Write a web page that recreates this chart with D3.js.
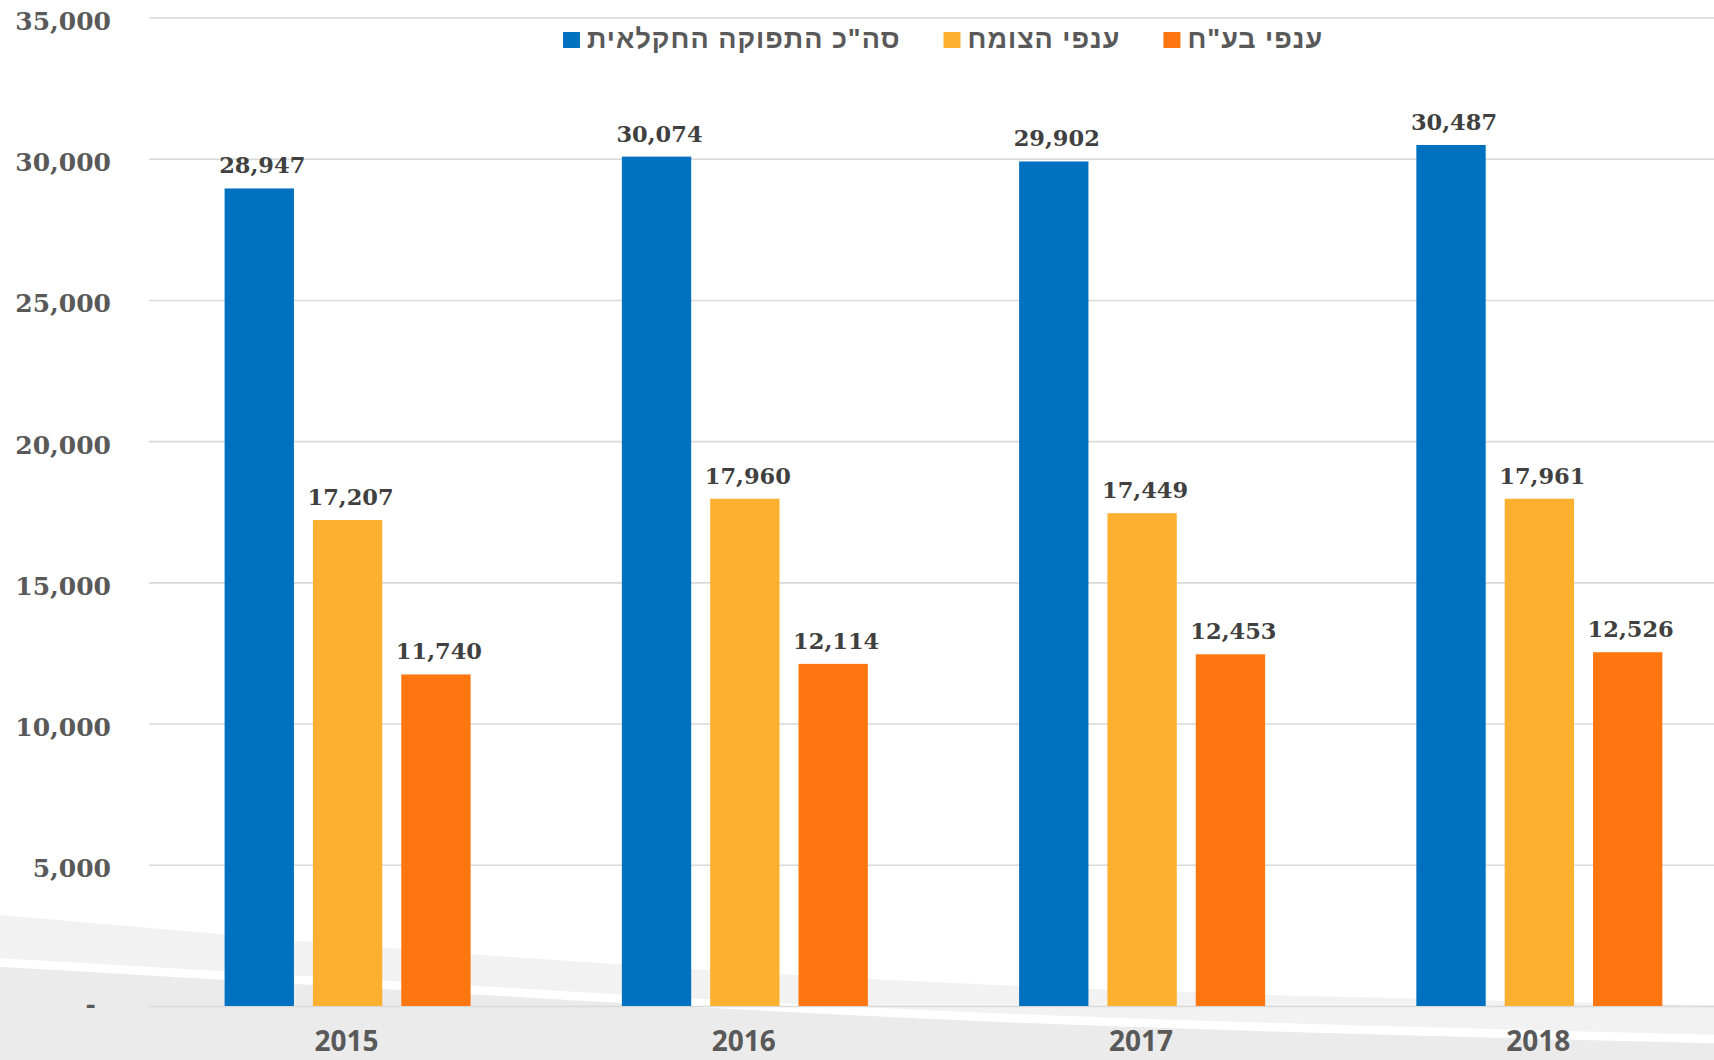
<!DOCTYPE html>
<html>
<head>
<meta charset="utf-8">
<script src="https://cdn.jsdelivr.net/npm/d3@7"></script>
<style>
  html, body { margin: 0; padding: 0; background: #fff; }
  svg { display: block; }
</style>
</head>
<body>
<div id="chart"></div>
<script>
// data
const years = ['2015', '2016', '2017', '2018'];
const seriesNames = ['סה"כ התפוקה החקלאית', 'ענפי הצומח', 'ענפי בע"ח'];
const totalOutput = [28947, 30074, 29902, 30487];
const plantOutput = [17207, 17960, 17449, 17961];
const livestockOutput = [11740, 12114, 12453, 12526];
const yTicks = [0, 5000, 10000, 15000, 20000, 25000, 30000, 35000];

const colors = ['#0070c0', '#fbb12f', '#fe7610'];
const W = 1714, H = 1060;
const plot = { left: 149, right: 1738, top: 17.5, bottom: 1006 };

const svg = d3.select('#chart')
  .append('svg')
  .attr('width', W)
  .attr('height', H);

// background decoration at the bottom
const line = d3.line().curve(d3.curveBasis);
const bandTop = [[0, 915], [470, 956], [900, 982], [1300, 997], [1714, 1005]];
svg.append('path')
  .attr('d', line(bandTop) + `L${W},${H}L0,${H}Z`)
  .attr('fill', '#f2f2f2');
const stripe = [[0, 967], [500, 996], [1000, 1025], [1714, 1043]];
svg.append('path')
  .attr('d', line(stripe) + `L${W},${H}L0,${H}Z`)
  .attr('fill', '#ebebeb');
svg.append('path')
  .attr('d', line([[0, 962.5], [500, 991.5], [1000, 1021], [1714, 1039]]))
  .attr('fill', 'none')
  .attr('stroke', '#fff')
  .attr('stroke-width', 8.5);

// scales
const x = d3.scaleBand()
  .domain(years)
  .range([plot.left, plot.right]);

const xInner = d3.scaleBand()
  .domain(seriesNames)
  .range([75.6, 321.6])
  .paddingInner(0.215);

const y = d3.scaleLinear()
  .domain([0, 35000])
  .range([plot.bottom, plot.top]);

// gridlines
const grid = svg.append('g')
  .attr('transform', `translate(${plot.left}, 0)`)
  .call(d3.axisLeft(y).tickValues(yTicks).tickSize(-(W - plot.left)).tickFormat(''));
grid.select('.domain').remove();
grid.selectAll('line')
  .attr('stroke', '#d9d9d9')
  .attr('stroke-width', 1.6);

// y labels
const fmt = d3.format(',');
const yAxis = svg.append('g')
  .attr('transform', `translate(111, 0)`)
  .call(d3.axisLeft(y).tickValues(yTicks).tickSize(0).tickPadding(0)
    .tickFormat(d => d === 0 ? '-' : fmt(d)));
yAxis.select('.domain').remove();
yAxis.selectAll('text')
  .attr('dy', null)
  .attr('y', 12)
  .style('font-family', '"DejaVu Serif", serif')
  .style('font-weight', 'bold')
  .style('font-size', '25px')
  .style('fill', '#595959');
yAxis.selectAll('.tick').filter(d => d === 0).select('text')
  .attr('x', -15)
  .attr('y', 6);

// bars
const seriesValues = [totalOutput, plantOutput, livestockOutput];
const groups = svg.selectAll('.year')
  .data(years)
  .enter()
  .append('g')
  .attr('class', 'year')
  .attr('transform', d => `translate(${x(d)}, 0)`);

groups.selectAll('rect')
  .data((d, i) => seriesNames.map((s, j) => ({ s, j, v: seriesValues[j][i] })))
  .enter()
  .append('rect')
  .attr('x', d => xInner(d.s))
  .attr('y', d => y(d.v))
  .attr('width', xInner.bandwidth())
  .attr('height', d => y(0) - y(d.v))
  .style('fill', d => colors[d.j]);

groups.selectAll('.lbl')
  .data((d, i) => seriesNames.map((s, j) => ({ s, j, v: seriesValues[j][i] })))
  .enter()
  .append('text')
  .attr('class', 'lbl')
  .attr('x', d => xInner(d.s) + xInner.bandwidth() / 2 + 3)
  .attr('y', d => y(d.v) - 15)
  .attr('text-anchor', 'middle')
  .text(d => fmt(d.v))
  .style('font-family', '"DejaVu Serif", serif')
  .style('font-weight', 'bold')
  .style('font-size', '22.5px')
  .style('fill', '#404040');

// x labels
svg.selectAll('.xlbl')
  .data(years)
  .enter()
  .append('text')
  .attr('class', 'xlbl')
  .attr('x', d => x(d) + x.bandwidth() / 2 - 1)
  .attr('y', 1051)
  .attr('text-anchor', 'middle')
  .text(d => d)
  .style('font-family', '"Open Sans", sans-serif')
  .style('font-weight', 'bold')
  .style('font-size', '28px')
  .style('fill', '#595959');

// legend
const legend = svg.append('g');
let lx = 563;
seriesNames.forEach((name, i) => {
  legend.append('rect')
    .attr('x', lx)
    .attr('y', 32)
    .attr('width', 17)
    .attr('height', 16)
    .style('fill', colors[i]);
  const t = legend.append('text')
    .attr('x', lx + 24)
    .attr('y', 48)
    .text(name)
    .style('font-family', '"Liberation Sans", Arial, sans-serif')
    .style('font-weight', 'bold')
    .style('font-size', '27px')
    .style('letter-spacing', '1px')
    .style('fill', '#595959');
  lx += 24 + t.node().getComputedTextLength() + 43;
});
</script>
</body>
</html>
